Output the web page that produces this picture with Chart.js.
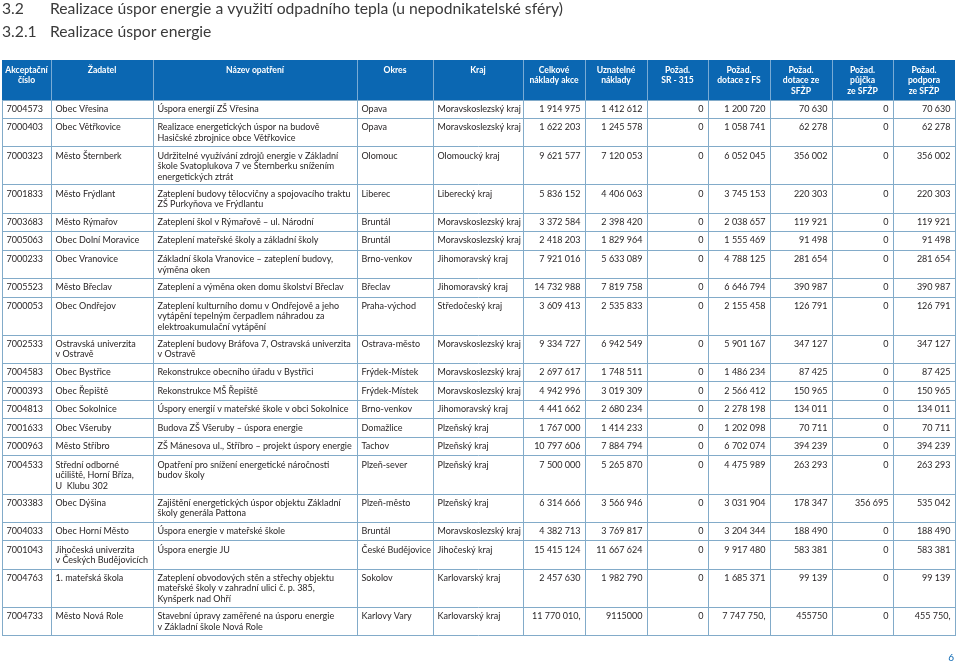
<!DOCTYPE html>
<html lang="cs">
<head>
<meta charset="utf-8">
<script src="https://cdn.jsdelivr.net/npm/chart.js@4.4.1/dist/chart.umd.min.js"></script>
<style>
  html, body { margin: 0; padding: 0; background: #fff; }
  #wrap { width: 959px; height: 664px; }
</style>
</head>
<body>
<div id="wrap"><canvas id="table" width="959" height="664"></canvas></div>
<script>
const headers = [
  'Akceptační\nčíslo', 'Žadatel', 'Název opatření', 'Okres', 'Kraj',
  'Celkové\nnáklady akce', 'Uznatelné\nnáklady', 'Požad.\nSR - 315', 'Požad.\ndotace z FS',
  'Požad.\ndotace ze\nSFŽP', 'Požad.\npůjčka\nze SFŽP', 'Požad.\npodpora\nze SFŽP'
];

const ids = ['7004573', '7000403', '7000323', '7001833', '7003683', '7005063', '7000233', '7005523', '7000053', '7002533',
  '7004583', '7000393', '7004813', '7001633', '7000963', '7004533', '7003383', '7004033', '7001043', '7004763', '7004733'];

const applicants = ['Obec Vřesina', 'Obec Větřkovice', 'Město Šternberk', 'Město Frýdlant', 'Město Rýmařov',
  'Obec Dolní Moravice', 'Obec Vranovice', 'Město Břeclav', 'Obec Ondřejov', 'Ostravská univerzita\nv Ostravě',
  'Obec Bystřice', 'Obec Řepiště', 'Obec Sokolnice', 'Obec Všeruby', 'Město Stříbro',
  'Střední odborné\nučiliště, Horní Bříza,\nU  Klubu 302', 'Obec Dýšina', 'Obec Horní Město',
  'Jihočeská univerzita\nv Českých Budějovicích', '1. mateřská škola', 'Město Nová Role'];

const measures = [
  'Úspora energií ZŠ Vřesina',
  'Realizace energetických úspor na budově\nHasičské zbrojnice obce Větřkovice',
  'Udržitelné využívání zdrojů energie v Základní\nškole Svatoplukova 7 ve Šternberku snížením\nenergetických ztrát',
  'Zateplení budovy tělocvičny a spojovacího traktu\nZŠ Purkyňova ve Frýdlantu',
  'Zateplení škol v Rýmařově – ul. Národní',
  'Zateplení mateřské školy a základní školy',
  'Základní škola Vranovice – zateplení budovy,\nvýměna oken',
  'Zateplení a výměna oken domu školství Břeclav',
  'Zateplení kulturního domu v Ondřejově a jeho\nvytápění tepelným čerpadlem náhradou za\nelektroakumulační vytápění',
  'Zateplení budovy Bráfova 7, Ostravská univerzita\nv Ostravě',
  'Rekonstrukce obecního úřadu v Bystřici',
  'Rekonstrukce MŠ Řepiště',
  'Úspory energií v mateřské škole v obci Sokolnice',
  'Budova ZŠ Všeruby – úspora energie',
  'ZŠ Mánesova ul., Stříbro – projekt úspory energie',
  'Opatření pro snížení energetické náročnosti\nbudov školy',
  'Zajištění energetických úspor objektu Základní\nškoly generála Pattona',
  'Úspora energie v mateřské škole',
  'Úspora energie JU',
  'Zateplení obvodových stěn a střechy objektu\nmateřské školy v zahradní ulici č. p. 385,\nKynšperk nad Ohří',
  'Stavební úpravy zaměřené na úsporu energie\nv Základní škole Nová Role'
];

const districts = ['Opava', 'Opava', 'Olomouc', 'Liberec', 'Bruntál', 'Bruntál', 'Brno-venkov', 'Břeclav', 'Praha-východ',
  'Ostrava-město', 'Frýdek-Místek', 'Frýdek-Místek', 'Brno-venkov', 'Domažlice', 'Tachov', 'Plzeň-sever', 'Plzeň-město',
  'Bruntál', 'České Budějovice', 'Sokolov', 'Karlovy Vary'];

const regions = ['Moravskoslezský kraj', 'Moravskoslezský kraj', 'Olomoucký kraj', 'Liberecký kraj', 'Moravskoslezský kraj',
  'Moravskoslezský kraj', 'Jihomoravský kraj', 'Jihomoravský kraj', 'Středočeský kraj', 'Moravskoslezský kraj',
  'Moravskoslezský kraj', 'Moravskoslezský kraj', 'Jihomoravský kraj', 'Plzeňský kraj', 'Plzeňský kraj', 'Plzeňský kraj',
  'Plzeňský kraj', 'Moravskoslezský kraj', 'Jihočeský kraj', 'Karlovarský kraj', 'Karlovarský kraj'];

const totalCosts = ['1 914 975', '1 622 203', '9 621 577', '5 836 152', '3 372 584', '2 418 203', '7 921 016', '14 732 988',
  '3 609 413', '9 334 727', '2 697 617', '4 942 996', '4 441 662', '1 767 000', '10 797 606', '7 500 000', '6 314 666',
  '4 382 713', '15 415 124', '2 457 630', '11 770 010,'];

const eligibleCosts = ['1 412 612', '1 245 578', '7 120 053', '4 406 063', '2 398 420', '1 829 964', '5 633 089', '7 819 758',
  '2 535 833', '6 942 549', '1 748 511', '3 019 309', '2 680 234', '1 414 233', '7 884 794', '5 265 870', '3 566 946',
  '3 769 817', '11 667 624', '1 982 790', '9115000'];

const reqSR315 = ['0', '0', '0', '0', '0', '0', '0', '0', '0', '0', '0', '0', '0', '0', '0', '0', '0', '0', '0', '0', '0'];

const reqFS = ['1 200 720', '1 058 741', '6 052 045', '3 745 153', '2 038 657', '1 555 469', '4 788 125', '6 646 794',
  '2 155 458', '5 901 167', '1 486 234', '2 566 412', '2 278 198', '1 202 098', '6 702 074', '4 475 989', '3 031 904',
  '3 204 344', '9 917 480', '1 685 371', '7 747 750,'];

const reqGrantSFZP = ['70 630', '62 278', '356 002', '220 303', '119 921', '91 498', '281 654', '390 987', '126 791', '347 127',
  '87 425', '150 965', '134 011', '70 711', '394 239', '263 293', '178 347', '188 490', '583 381', '99 139', '455750'];

const reqLoanSFZP = ['0', '0', '0', '0', '0', '0', '0', '0', '0', '0', '0', '0', '0', '0', '0', '0', '356 695', '0', '0', '0', '0'];

const reqSupportSFZP = ['70 630', '62 278', '356 002', '220 303', '119 921', '91 498', '281 654', '390 987', '126 791', '347 127',
  '87 425', '150 965', '134 011', '70 711', '394 239', '263 293', '535 042', '188 490', '583 381', '99 139', '455 750,'];

const columns = [ids, applicants, measures, districts, regions, totalCosts, eligibleCosts, reqSR315, reqFS,
  reqGrantSFZP, reqLoanSFZP, reqSupportSFZP];

// ---- layout ----
const COL_WIDTHS = [49, 102, 204, 76, 90, 62, 62, 61, 62, 62, 61, 62];
const NUMERIC_FROM = 5;
const ROW_BASE = 18.5;      // one text line
const ROW_EXTRA = 9.8;      // each extra wrapped line
const LINE_STEP = 10.6;
const BLUE = '#0b67b2';
const GRID = '#82abc9';
const TEXT = '#231f20';
const FONT = 'Lato, "Open Sans", sans-serif';

const colEdges = COL_WIDTHS.reduce((acc, w) => { acc.push(acc[acc.length - 1] + w); return acc; }, [0]);
const lineCounts = ids.map((_, r) => Math.max(...columns.map(c => c[r].split('\n').length)));
const rowEdges = lineCounts.reduce((acc, n) => {
  acc.push(acc[acc.length - 1] + ROW_BASE + ROW_EXTRA * (n - 1));
  return acc;
}, [0]);
const tableHeight = rowEdges[rowEdges.length - 1];

const TABLE_TOP = 100;
const HEADER_TOP = 60;

const tablePlugin = {
  id: 'tableText',
  afterDraw(chart) {
    const { ctx, chartArea, scales: { x, y } } = chart;
    ctx.save();

    // section titles
    ctx.fillStyle = '#3a3a3a';
    ctx.font = '15.7px ' + FONT;
    ctx.textBaseline = 'middle';
    ctx.textAlign = 'left';
    ctx.fillText('3.2', 2, 9);
    ctx.fillText('Realizace úspor energie a využití odpadního tepla (u nepodnikatelské sféry)', 50, 9);
    ctx.fillText('3.2.1', 2, 32);
    ctx.fillText('Realizace úspor energie', 50, 32);

    // header band
    ctx.fillStyle = BLUE;
    ctx.fillRect(chartArea.left, HEADER_TOP, chartArea.right - chartArea.left, chartArea.top - HEADER_TOP);
    ctx.strokeStyle = 'rgba(255,255,255,0.45)';
    ctx.lineWidth = 1;
    colEdges.slice(1, -1).forEach(v => {
      const px = Math.round(x.getPixelForValue(v)) + 0.5;
      ctx.beginPath();
      ctx.moveTo(px, HEADER_TOP);
      ctx.lineTo(px, chartArea.top);
      ctx.stroke();
    });
    ctx.fillStyle = '#ffffff';
    ctx.font = 'bold 8.6px ' + FONT;
    ctx.textAlign = 'center';
    headers.forEach((h, c) => {
      const cx = (x.getPixelForValue(colEdges[c]) + x.getPixelForValue(colEdges[c + 1])) / 2;
      h.split('\n').forEach((line, i) => ctx.fillText(line, cx, HEADER_TOP + 10 + i * 10.5));
    });

    // cells
    ctx.fillStyle = TEXT;
    ctx.font = '9px ' + FONT;
    columns.forEach((col, c) => {
      const left = x.getPixelForValue(colEdges[c]);
      const right = x.getPixelForValue(colEdges[c + 1]);
      const numeric = c >= NUMERIC_FROM;
      ctx.textAlign = numeric ? 'right' : 'left';
      const tx = numeric ? right - 4.5 : left + 4.5;
      col.forEach((val, r) => {
        const top = y.getPixelForValue(rowEdges[r]);
        val.split('\n').forEach((line, i) => ctx.fillText(line, tx, top + 8.8 + i * LINE_STEP));
      });
    });

    // page number
    ctx.fillStyle = BLUE;
    ctx.font = '10px ' + FONT;
    ctx.textAlign = 'right';
    ctx.fillText('6', 954, 658);
    ctx.restore();
  }
};

new Chart(document.getElementById('table'), {
  type: 'scatter',
  data: { datasets: [] },
  options: {
    responsive: false,
    animation: false,
    devicePixelRatio: 1,
    layout: { padding: { top: TABLE_TOP, left: 2, right: 4, bottom: 664 - TABLE_TOP - tableHeight } },
    plugins: { legend: { display: false }, tooltip: { enabled: false } },
    scales: {
      x: {
        type: 'linear',
        min: 0,
        max: colEdges[colEdges.length - 1],
        afterBuildTicks: s => { s.ticks = colEdges.map(v => ({ value: v })); },
        afterFit: s => { s.height = 0; },
        ticks: { display: false },
        border: { display: false },
        grid: { color: GRID, lineWidth: 1, drawTicks: false }
      },
      y: {
        type: 'linear',
        reverse: true,
        min: 0,
        max: tableHeight,
        afterBuildTicks: s => { s.ticks = rowEdges.map(v => ({ value: v })); },
        afterFit: s => { s.width = 0; },
        ticks: { display: false },
        border: { display: false },
        grid: { color: GRID, lineWidth: 1, drawTicks: false }
      }
    }
  },
  plugins: [tablePlugin]
});
</script>
</body>
</html>
